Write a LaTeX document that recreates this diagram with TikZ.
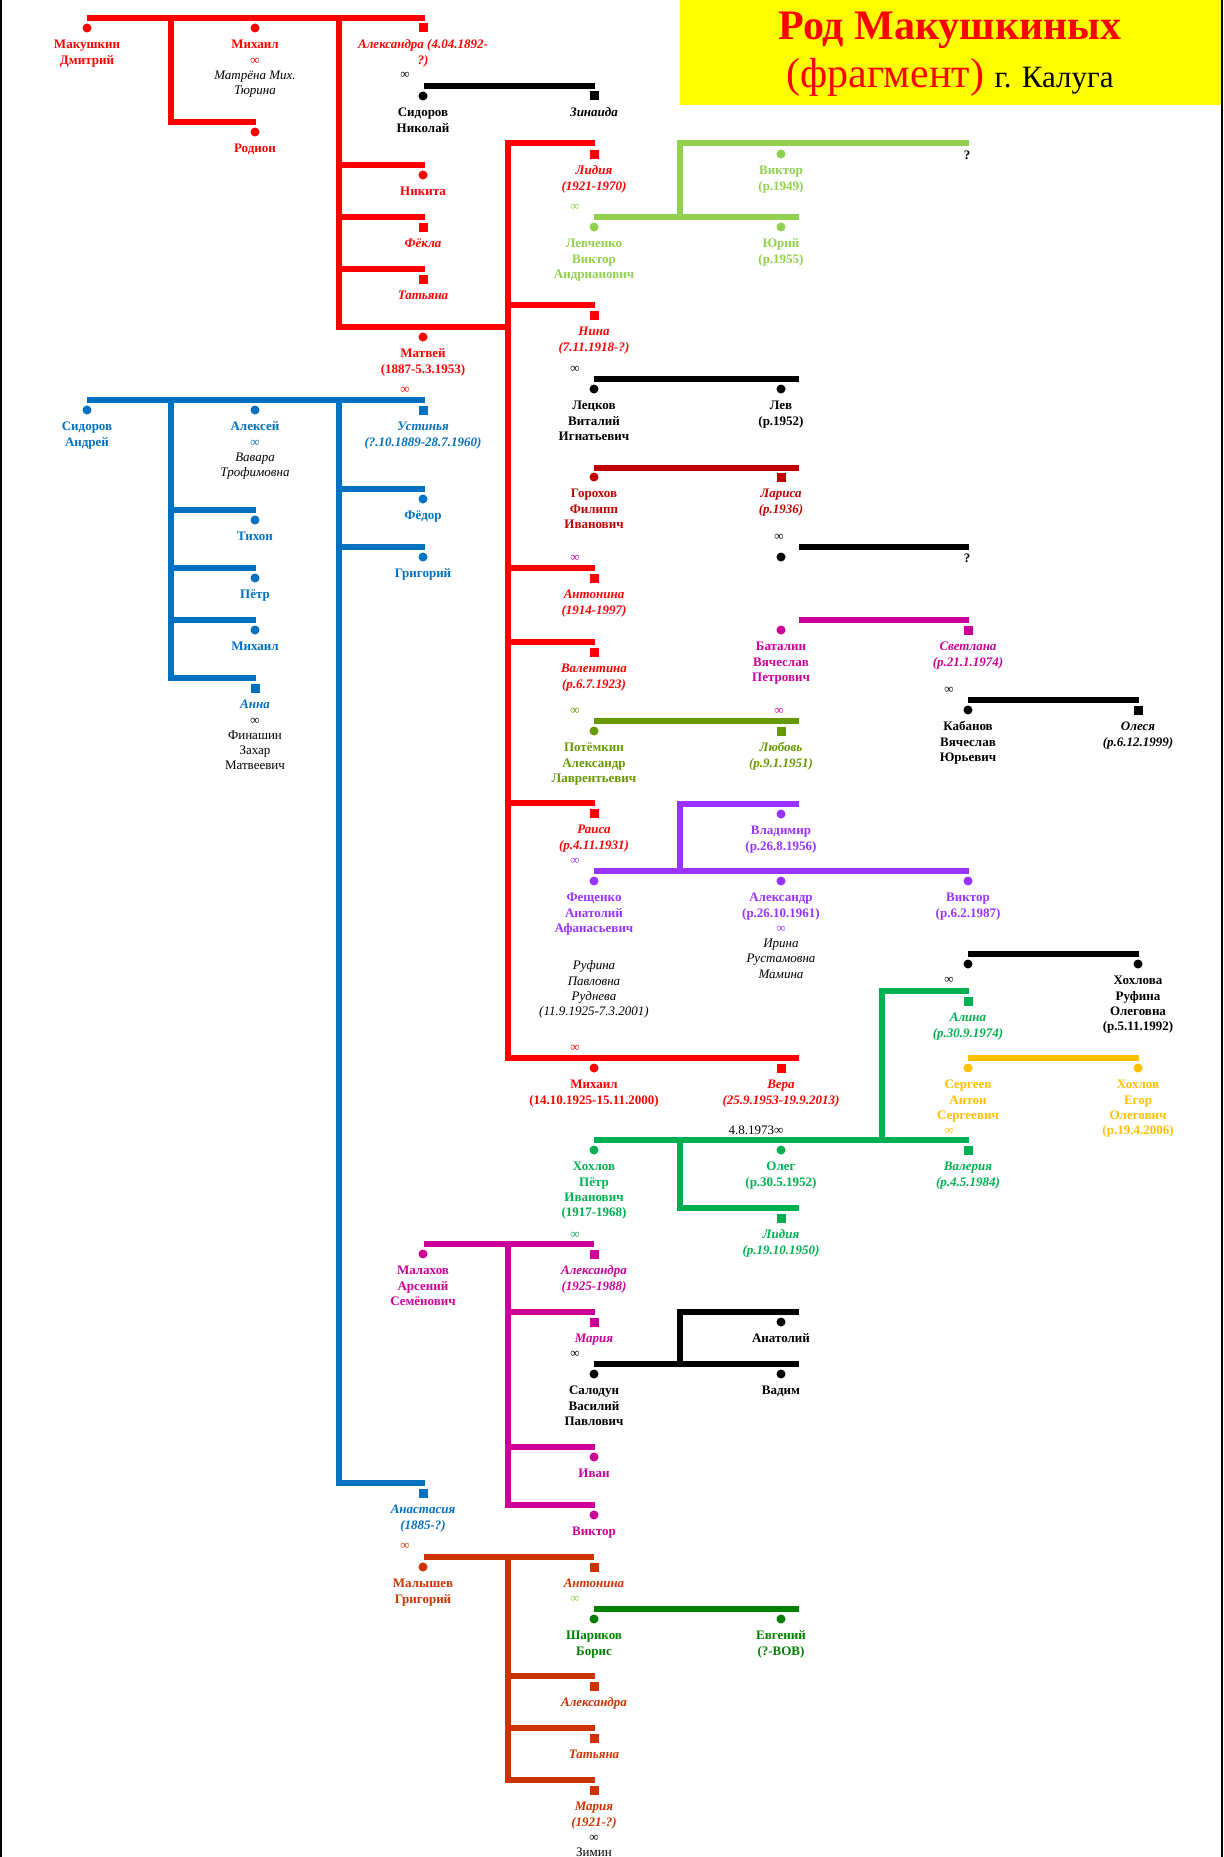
\documentclass[tikz,border=0pt]{standalone}
\usepackage{fontspec}
\setmainfont{Liberation Serif}

\definecolor{cR}{HTML}{FF0000}
\definecolor{cB}{HTML}{0070C0}
\definecolor{cLG}{HTML}{92D050}
\definecolor{cDR}{HTML}{C00000}
\definecolor{cM}{HTML}{CC0099}
\definecolor{cO}{HTML}{669900}
\definecolor{cP}{HTML}{9933FF}
\definecolor{cG}{HTML}{00B050}
\definecolor{cY}{HTML}{FFC000}
\definecolor{cOR}{HTML}{CC3300}
\definecolor{cDG}{HTML}{008000}
\definecolor{cTitle}{HTML}{FFFF00}

\tikzset{
  bar/.style={line width=6pt},
  dotm/.style={circle, inner sep=0pt, minimum size=9pt},
  sqm/.style={rectangle, inner sep=0pt, minimum size=9pt},
  who/.style={anchor=north, inner sep=0pt, align=center},
  nb/.style={font=\fontsize{13}{15.3}\selectfont\bfseries},
  ni/.style={font=\fontsize{13}{15.3}\selectfont\bfseries\itshape},
  nr/.style={font=\fontsize{13}{15.3}\selectfont},
  nri/.style={font=\fontsize{13}{15.3}\selectfont\itshape},
  mk/.style={inner sep=0pt, font=\fontsize{13}{15.3}\selectfont},
}

% marriage sign and spouse lines inside a person block
\newcommand\marr{{\mdseries\upshape ∞}}
\newcommand\spI[1]{{\mdseries\itshape\color{black}#1}}
\newcommand\spR[1]{{\mdseries\upshape\color{black}#1}}

% #1 name, #2 x, #3 y of marker, #4 marker shape, #5 colour, #6 font style, #7 text
\newcommand\person[7]{%
  \node[#4, fill=#5] (#1) at (#2,#3) {};
  \node[who, #6, text=#5] (#1-t) at (#2,#3+9.8) {\strut #7};
}

\begin{document}
\begin{tikzpicture}[x=1pt, y=-1pt]
\useasboundingbox (0,0) rectangle (1223,1857);
\fill[white] (0,0) rectangle (1223,1857);

% frame
\draw[line width=2pt] (1,0) -- (1,1857);
\draw[line width=2pt] (1222,0) -- (1222,1857);

% title
\fill[cTitle] (680,0) rectangle (1221,105);
\node[anchor=base, inner sep=0pt, text=cR, font=\fontsize{42}{48}\selectfont\bfseries] (title) at (950,40) {Род Макушкиных};
\node[anchor=base, inner sep=0pt, text=cR, font=\fontsize{42}{48}\selectfont] (subtitle) at (950,88) {(фрагмент) {\fontsize{31}{36}\selectfont\color{black}г. Калуга}};

% ---------- lines ----------
% Makushkin Dmitriy
\draw[bar, cR] (87,18) -- (425,18);
\draw[bar, cR] (171,18) -- (171,122) -- (256,122);
\draw[bar, cR] (339,18) -- (339,327) -- (508,327);
\draw[bar, cR] (339,165) -- (425,165);
\draw[bar, cR] (339,217) -- (425,217);
\draw[bar, cR] (339,269) -- (425,269);
\draw[bar, black] (424,86) -- (595,86);
% Matvey's children
\draw[bar, cR] (595,143) -- (508,143) -- (508,1058) -- (799,1058);
\draw[bar, cR] (508,305) -- (595,305);
\draw[bar, cR] (508,568) -- (595,568);
\draw[bar, cR] (508,642) -- (595,642);
\draw[bar, cR] (508,803) -- (595,803);
% Sidorov Andrey
\draw[bar, cB] (87,400) -- (425,400);
\draw[bar, cB] (171,400) -- (171,678) -- (256,678);
\draw[bar, cB] (171,510) -- (256,510);
\draw[bar, cB] (171,568) -- (256,568);
\draw[bar, cB] (171,620) -- (256,620);
\draw[bar, cB] (339,400) -- (339,1483) -- (425,1483);
\draw[bar, cB] (339,489) -- (425,489);
\draw[bar, cB] (339,547) -- (425,547);
% Lidia
\draw[bar, cLG] (594,217) -- (799,217);
\draw[bar, cLG] (680,217) -- (680,143) -- (969,143);
% Nina
\draw[bar, black] (594,379) -- (799,379);
% Antonina
\draw[bar, cDR] (594,468) -- (799,468);
\draw[bar, black] (799,547) -- (969,547);
\draw[bar, cM] (799,620) -- (969,620);
\draw[bar, black] (968,700) -- (1139,700);
% Valentina
\draw[bar, cO] (594,721) -- (799,721);
% Raisa
\draw[bar, cP] (594,871) -- (969,871);
\draw[bar, cP] (680,871) -- (680,804) -- (799,804);
% Vera
\draw[bar, black] (968,954) -- (1139,954);
\draw[bar, cG] (594,1140) -- (969,1140);
\draw[bar, cG] (680,1140) -- (680,1208) -- (799,1208);
\draw[bar, cG] (882,1140) -- (882,991) -- (969,991);
\draw[bar, cY] (968,1058) -- (1139,1058);
% Malakhov
\draw[bar, cM] (424,1244) -- (594,1244);
\draw[bar, cM] (508,1244) -- (508,1505) -- (595,1505);
\draw[bar, cM] (508,1312) -- (595,1312);
\draw[bar, cM] (508,1447) -- (595,1447);
\draw[bar, black] (594,1364) -- (799,1364);
\draw[bar, black] (680,1364) -- (680,1312) -- (799,1312);
% Malyshev
\draw[bar, cOR] (424,1557) -- (594,1557);
\draw[bar, cOR] (508,1557) -- (508,1780) -- (595,1780);
\draw[bar, cOR] (508,1676) -- (595,1676);
\draw[bar, cOR] (508,1728) -- (595,1728);
\draw[bar, cDG] (594,1609) -- (799,1609);

% ---------- people ----------
\person{dmitriy}{87}{28}{dotm}{cR}{nb}{Макушкин\\Дмитрий}
\person{mikhailA}{255}{28}{dotm}{cR}{nb}{Михаил\\\marr\\\spI{Матрёна Мих.}\\\spI{Тюрина}}
\person{alexandraA}{423}{28}{sqm}{cR}{ni}{Александра (4.04.1892-\\?)}
\person{rodion}{255}{132}{dotm}{cR}{nb}{Родион}
\person{nikita}{423}{175}{dotm}{cR}{nb}{Никита}
\person{fekla}{423}{227}{sqm}{cR}{ni}{Фёкла}
\person{tatianaA}{423}{279}{sqm}{cR}{ni}{Татьяна}
\person{matvey}{423}{337}{dotm}{cR}{nb}{Матвей\\(1887-5.3.1953)}
\person{nikolay}{423}{96}{dotm}{black}{nb}{Сидоров\\Николай}
\person{zinaida}{594}{96}{sqm}{black}{ni}{Зинаида}

\person{andrey}{87}{410}{dotm}{cB}{nb}{Сидоров\\Андрей}
\person{aleksey}{255}{410}{dotm}{cB}{nb}{Алексей\\\marr\\\spI{Вавара}\\\spI{Трофимовна}}
\person{ustinya}{423}{410}{sqm}{cB}{ni}{Устинья\\(?.10.1889-28.7.1960)}
\person{tikhon}{255}{520}{dotm}{cB}{nb}{Тихон}
\person{petrA}{255}{578}{dotm}{cB}{nb}{Пётр}
\person{mikhailB}{255}{630}{dotm}{cB}{nb}{Михаил}
\person{anna}{255}{688}{sqm}{cB}{ni}{Анна\\{\color{black}\marr}\\\spR{Финашин}\\\spR{Захар}\\\spR{Матвеевич}}
\person{fedor}{423}{499}{dotm}{cB}{nb}{Фёдор}
\person{grigoriyA}{423}{557}{dotm}{cB}{nb}{Григорий}
\person{anastasia}{423}{1493}{sqm}{cB}{ni}{Анастасия\\(1885-?)}

\person{lidiaA}{594}{154}{sqm}{cR}{ni}{Лидия\\(1921-1970)}
\person{nina}{594}{315}{sqm}{cR}{ni}{Нина\\(7.11.1918-?)}
\person{antoninaA}{594}{578}{sqm}{cR}{ni}{Антонина\\(1914-1997)}
\person{valentina}{594}{652}{sqm}{cR}{ni}{Валентина\\(р.6.7.1923)}
\person{raisa}{594}{813}{sqm}{cR}{ni}{Раиса\\(р.4.11.1931)}
\person{mikhailC}{594}{1068}{dotm}{cR}{nb}{Михаил\\(14.10.1925-15.11.2000)}
\person{vera}{781}{1068}{sqm}{cR}{ni}{Вера\\(25.9.1953-19.9.2013)}

\person{viktorA}{781}{154}{dotm}{cLG}{nb}{Виктор\\(р.1949)}
\person{levchenko}{594}{227}{dotm}{cLG}{nb}{Левченко\\Виктор\\Андрианович}
\person{yuriy}{781}{227}{dotm}{cLG}{nb}{Юрий\\(р.1955)}

\person{letskov}{594}{389}{dotm}{black}{nb}{Лецков\\Виталий\\Игнатьевич}
\person{lev}{781}{389}{dotm}{black}{nb}{Лев\\(р.1952)}

\person{gorokhov}{594}{477}{dotm}{cDR}{nb}{Горохов\\Филипп\\Иванович}
\person{larisa}{781}{477}{sqm}{cDR}{ni}{Лариса\\(р.1936)}
\node[dotm, fill=black] (larisaB) at (781,557) {};

\person{batalin}{781}{630}{dotm}{cM}{nb}{Баталин\\Вячеслав\\Петрович}
\person{svetlana}{968}{630}{sqm}{cM}{ni}{Светлана\\(р.21.1.1974)}
\person{kabanov}{968}{710}{dotm}{black}{nb}{Кабанов\\Вячеслав\\Юрьевич}
\person{olesya}{1138}{710}{sqm}{black}{ni}{Олеся\\(р.6.12.1999)}

\person{potemkin}{594}{731}{dotm}{cO}{nb}{Потёмкин\\Александр\\Лаврентьевич}
\person{lyubov}{781}{731}{sqm}{cO}{ni}{Любовь\\(р.9.1.1951)}

\person{vladimir}{781}{814}{dotm}{cP}{nb}{Владимир\\(р.26.8.1956)}
\person{feshchenko}{594}{881}{dotm}{cP}{nb}{Фещенко\\Анатолий\\Афанасьевич}
\person{aleksandr}{781}{881}{dotm}{cP}{nb}{Александр\\(р.26.10.1961)\\\marr\\\spI{Ирина}\\\spI{Рустамовна}\\\spI{Мамина}}
\person{viktorB}{968}{881}{dotm}{cP}{nb}{Виктор\\(р.6.2.1987)}

\node[who, nri] (rufina) at (594,959) {\strut Руфина\\Павловна\\Руднева\\(11.9.1925-7.3.2001)};

\node[dotm, fill=black] (olegB) at (968,964) {};
\person{rufinaK}{1138}{964}{dotm}{black}{nb}{Хохлова\\Руфина\\Олеговна\\(р.5.11.1992)}

\person{khokhlov}{594}{1150}{dotm}{cG}{nb}{Хохлов\\Пётр\\Иванович\\(1917-1968)}
\person{oleg}{781}{1150}{dotm}{cG}{nb}{Олег\\(р.30.5.1952)}
\person{lidiaB}{781}{1218}{sqm}{cG}{ni}{Лидия\\(р.19.10.1950)}
\person{alina}{968}{1001}{sqm}{cG}{ni}{Алина\\(р.30.9.1974)}
\person{valeria}{968}{1150}{sqm}{cG}{ni}{Валерия\\(р.4.5.1984)}

\person{sergeev}{968}{1068}{dotm}{cY}{nb}{Сергеев\\Антон\\Сергеевич}
\person{egor}{1138}{1068}{dotm}{cY}{nb}{Хохлов\\Егор\\Олегович\\(р.19.4.2006)}

\person{malakhov}{423}{1254}{dotm}{cM}{nb}{Малахов\\Арсений\\Семёнович}
\person{alexandraB}{594}{1254}{sqm}{cM}{ni}{Александра\\(1925-1988)}
\person{mariaA}{594}{1322}{sqm}{cM}{ni}{Мария}
\person{ivan}{594}{1457}{dotm}{cM}{nb}{Иван}
\person{viktorC}{594}{1515}{dotm}{cM}{nb}{Виктор}

\person{anatoliy}{781}{1322}{dotm}{black}{nb}{Анатолий}
\person{salodun}{594}{1374}{dotm}{black}{nb}{Салодун\\Василий\\Павлович}
\person{vadim}{781}{1374}{dotm}{black}{nb}{Вадим}

\person{malyshev}{423}{1567}{dotm}{cOR}{nb}{Малышев\\Григорий}
\person{antoninaB}{594}{1567}{sqm}{cOR}{ni}{Антонина}
\person{alexandraC}{594}{1686}{sqm}{cOR}{ni}{Александра}
\person{tatianaB}{594}{1738}{sqm}{cOR}{ni}{Татьяна}
\person{mariaB}{594}{1790}{sqm}{cOR}{ni}{Мария\\(1921-?)\\{\color{black}\marr}\\\spR{Зимин}}

\person{sharikov}{594}{1619}{dotm}{cDG}{nb}{Шариков\\Борис}
\person{evgeniy}{781}{1619}{dotm}{cDG}{nb}{Евгений\\(?-ВОВ)}

% ---------- marriage signs and unknowns ----------
\node[mk, text=black] (m1) at (405,75) {∞};
\node[mk, text=cR] (m2) at (405,390) {∞};
\node[mk, text=cOR] (m3) at (405,1546) {∞};
\node[mk, text=cLG] (m4) at (575,207) {∞};
\node[mk, text=black] (m5) at (575,369) {∞};
\node[mk, text=black] (m6) at (779,537) {∞};
\node[mk, text=cM] (m7) at (575,558) {∞};
\node[mk, text=cO] (m8) at (575,711) {∞};
\node[mk, text=cM] (m9) at (779,711) {∞};
\node[mk, text=black] (m10) at (949,690) {∞};
\node[mk, text=cP] (m11) at (575,861) {∞};
\node[mk, text=black] (m12) at (949,980) {∞};
\node[mk, text=cR] (m13) at (575,1048) {∞};
\node[mk, text=black] (m14) at (756,1130) {4.8.1973∞};
\node[mk, text=cY] (m15) at (949,1131) {∞};
\node[mk, text=cG] (m16) at (575,1235) {∞};
\node[mk, text=black] (m17) at (575,1354) {∞};
\node[mk, text=cLG] (m18) at (575,1599) {∞};
\node[mk, text=black, font=\fontsize{13}{15.3}\selectfont\bfseries] (q1) at (967,155) {?};
\node[mk, text=black, font=\fontsize{13}{15.3}\selectfont\bfseries] (q2) at (967,558) {?};
\end{tikzpicture}
\end{document}
